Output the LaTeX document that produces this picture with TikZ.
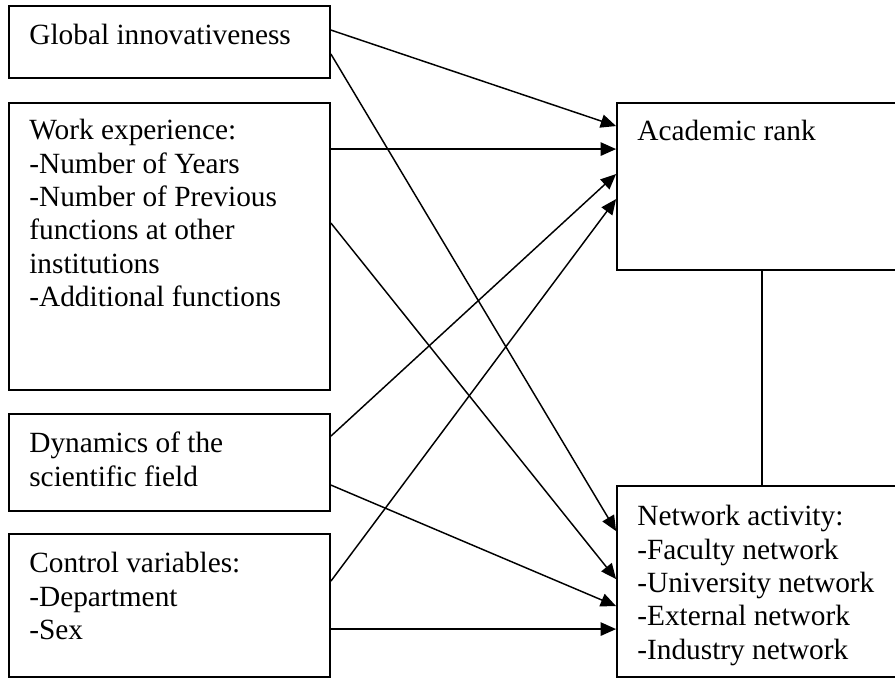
\documentclass[tikz,border=0pt]{standalone}
\usepackage{fontspec}
\setmainfont{Liberation Serif}
\usetikzlibrary{arrows.meta,fit}
\begin{document}
\begin{tikzpicture}[x=0.75pt, y=-0.75pt,
  box/.style={draw, line width=1.4pt, inner sep=0pt},
  txt/.style={anchor=north west, inner sep=0pt, align=left,
    font=\fontsize{22}{25}\selectfont},
  link/.style={line width=1.1pt, -{Triangle[length=11.5pt,width=10pt]}}]
  \clip (0,0) rectangle (895,679);
  % left column
  \node[box, fit={(9,6) (330,78)}] (glob) {};
  \node[box, fit={(9,103) (330,390)}] (work) {};
  \node[box, fit={(9,414) (330,511)}] (dyn) {};
  \node[box, fit={(9,534) (330,677)}] (ctrl) {};
  % right column
  \node[box, fit={(617,103) (907,270)}] (acad) {};
  \node[box, fit={(617,486) (907,677)}] (net) {};
  \node[txt] (globtxt) at ([shift={(21,19)}]glob.north west) {Global innovativeness};
  \node[txt] (worktxt) at ([shift={(21,17)}]work.north west)
    {Work experience:\\-Number of Years\\-Number of Previous\\functions at other\\institutions\\-Additional functions};
  \node[txt] (dyntxt) at ([shift={(21,19)}]dyn.north west) {Dynamics of the\\scientific field};
  \node[txt] (ctrltxt) at ([shift={(21,19)}]ctrl.north west) {Control variables:\\-Department\\-Sex};
  \node[txt] (acadtxt) at ([shift={(21,18)}]acad.north west) {Academic rank};
  \node[txt] (nettxt) at ([shift={(21,20)}]net.north west)
    {Network activity:\\-Faculty network\\-University network\\-External network\\-Industry network};
  % paths
  \draw[link] ([shift={(0,25)}]glob.north east) -- ([shift={(0,24)}]acad.north west);
  \draw[link] ([shift={(0,49)}]glob.north east) -- ([shift={(0,46)}]net.north west);
  \draw[link] ([shift={(0,47)}]work.north east) -- ([shift={(0,47)}]acad.north west);
  \draw[link] ([shift={(0,121)}]work.north east) -- ([shift={(0,94)}]net.north west);
  \draw[link] ([shift={(0,23)}]dyn.north east) -- ([shift={(0,72)}]acad.north west);
  \draw[link] ([shift={(0,72)}]dyn.north east) -- ([shift={(0,121)}]net.north west);
  \draw[link] ([shift={(0,48)}]ctrl.north east) -- ([shift={(0,97)}]acad.north west);
  \draw[link] ([shift={(0,96)}]ctrl.north east) -- ([shift={(0,144)}]net.north west);
  \draw[line width=1.1pt] (acad.south) -- (net.north);
\end{tikzpicture}
\end{document}
